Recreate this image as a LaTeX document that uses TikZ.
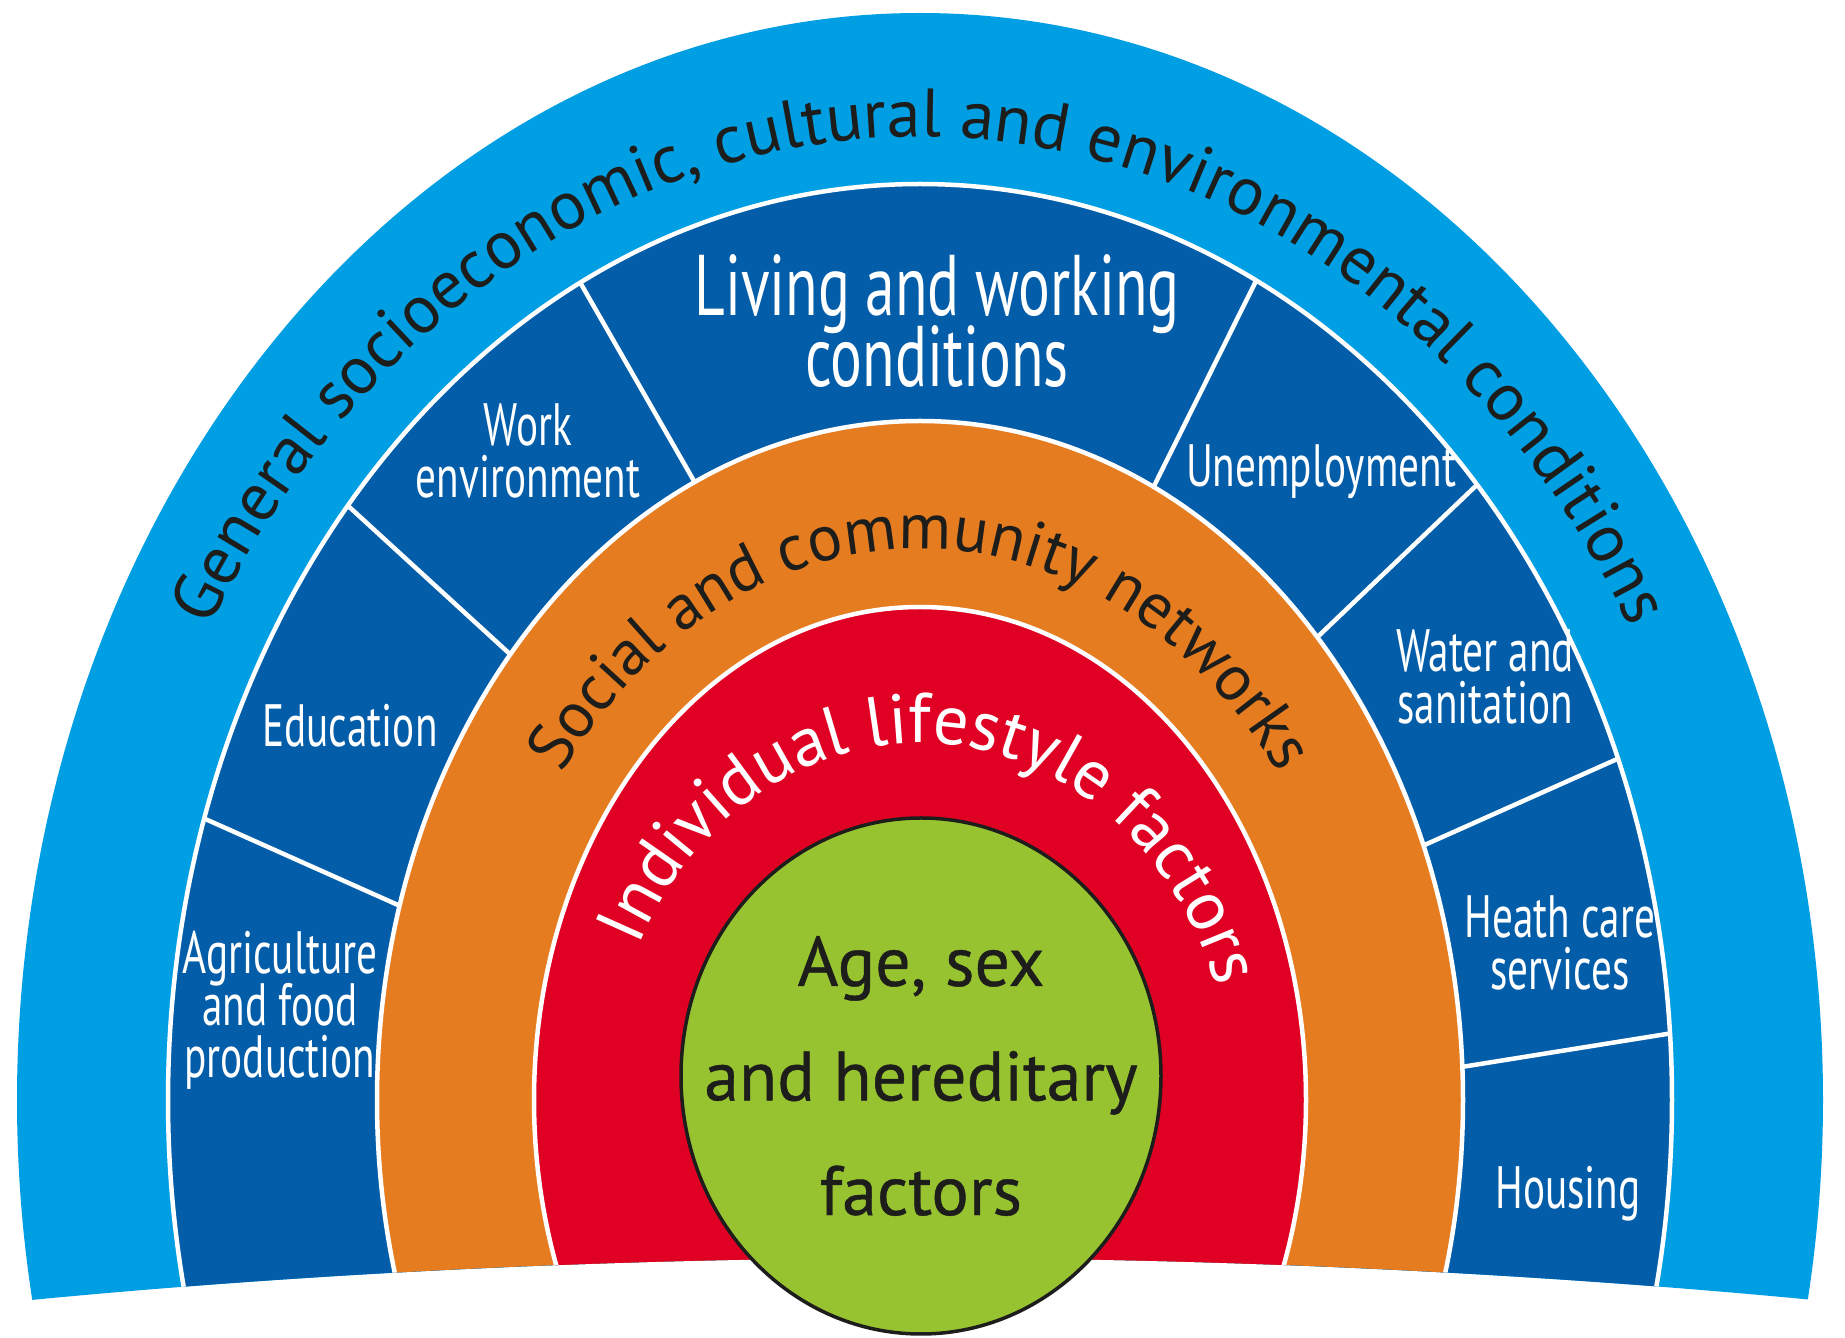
\documentclass[tikz,border=0pt]{standalone}
\usepackage{fontspec}
\setmainfont{PT Sans}
\newfontfamily\bandFont{PT Sans}
\newfontfamily\coreFont[FakeBold=0.6]{PT Sans}
\newfontfamily\condFont[FakeStretch=0.69]{PT Sans}
\newcommand\tightLines{\lineskiplimit=-100pt\relax}
\usetikzlibrary{decorations.text}
\definecolor{skyBlue}{RGB}{0,158,226}
\definecolor{deepBlue}{RGB}{3,93,168}
\definecolor{ringOrange}{RGB}{230,124,32}
\definecolor{ringRed}{RGB}{224,0,36}
\definecolor{coreGreen}{RGB}{152,195,48}
\definecolor{inkBlack}{RGB}{29,29,27}

\begin{document}
\begin{tikzpicture}[x=0.1mm, y=0.1mm,
    ringEdge/.style={draw=white, line width=0.45mm},
    divider/.style={draw=white, line width=0.45mm, shorten <=-2mm, shorten >=-2mm},
    segLabel/.style={text=white, align=center, inner sep=0pt,
      font=\condFont\fontsize{17}{14.8}\selectfont\tightLines},
    bigLabel/.style={segLabel, font=\condFont\fontsize{24.5}{20.2}\selectfont\tightLines},
    coreText/.style={text=inkBlack, align=center, inner sep=0pt,
      font=\coreFont\fontsize{19.9}{32.6}\selectfont\tightLines}]
  \fill[white] (0,0) rectangle (1845,1338);
  \useasboundingbox (0,0) rectangle (1845,1338);
  \coordinate (center) at (920,238);
  \coordinate (agriOut) at (203,520);     \coordinate (agriIn) at (389,437);
  \coordinate (eduOut) at (346,834);      \coordinate (eduIn) at (500,693);
  \coordinate (workOut) at (581,1054);    \coordinate (workIn) at (690,864);
  \coordinate (livingOut) at (1256,1057); \coordinate (livingIn) at (1160,864);
  \coordinate (jobsOut) at (1481,857);    \coordinate (jobsIn) at (1329,712);
  \coordinate (waterOut) at (1624,582);   \coordinate (waterIn) at (1438,499);
  \coordinate (healthOut) at (1673,305);  \coordinate (healthIn) at (1474,273);

  \begin{scope}
    \clip (0,35) parabola bend (920,80) (1845,35) -- (1845,1338) -- (0,1338) -- cycle;
    \fill[skyBlue] (center) ellipse [x radius=90.3mm, y radius=108.7mm];
    \fill[deepBlue] (center) ellipse [x radius=75.2mm, y radius=91.6mm];
    \begin{scope}
      \clip (center) ellipse [x radius=75.2mm, y radius=91.6mm];
      \foreach \seg in {agri,edu,work,living,jobs,water,health}
        \draw[divider] (\seg Out) -- (\seg In);
    \end{scope}
    \draw[ringEdge] (center) ellipse [x radius=75.2mm, y radius=91.6mm];
    \filldraw[ringEdge, fill=ringOrange] (center) ellipse [x radius=54.3mm, y radius=67.9mm];
    \filldraw[ringEdge, fill=ringRed] (center) ellipse [x radius=38.6mm, y radius=49.3mm];
  \end{scope}
  \filldraw[fill=coreGreen, draw=inkBlack, line width=0.35mm] (921,262) ellipse [x radius=24mm, y radius=25.8mm];

  \path[shift={(center)}, decorate, decoration={text along path, text align=center, text color=inkBlack,
      text={|\bandFont\fontsize{19.4}{21}\selectfont|General socioeconomic, cultural and environmental conditions}}]
    (175:81.5mm and 96.3mm) arc [start angle=175, end angle=5, x radius=81.5mm, y radius=96.3mm];
  \path[shift={(center)}, decorate, decoration={text along path, text align=center, text color=inkBlack,
      text={|\bandFont\fontsize{18.5}{20}\selectfont|Social and community networks}}]
    (170:44.5mm and 55.1mm) arc [start angle=170, end angle=10, x radius=44.5mm, y radius=55.1mm];
  \path[shift={(center)}, decorate, decoration={text along path, text align=center, text color=white,
      text={|\bandFont\fontsize{20}{22}\selectfont|Individual lifestyle factors}}]
    (173:31.2mm and 35.7mm) arc [start angle=173, end angle=0, x radius=31.2mm, y radius=35.7mm];

  \node[bigLabel] (living) at (937,1017) {Living and working\\conditions};
  \node[segLabel] (work) at (528,887) {Work\\environment};
  \node[segLabel, anchor=base] (education) at (350,591) {Education};
  \node[segLabel] (agriculture) at (280,328) {Agriculture\\and food\\production};
  \node[segLabel, anchor=base] (jobs) at (1321,851) {Unemployment};
  \node[segLabel] (water) at (1485,661) {Water and\\sanitation};
  \node[segLabel] (health) at (1560,395) {Heath care\\services};
  \node[segLabel, anchor=base] (housing) at (1568,129) {Housing};
  \node[coreText] (core) at (921,262) {Age, sex\\and hereditary\\factors};
\end{tikzpicture}
\end{document}
